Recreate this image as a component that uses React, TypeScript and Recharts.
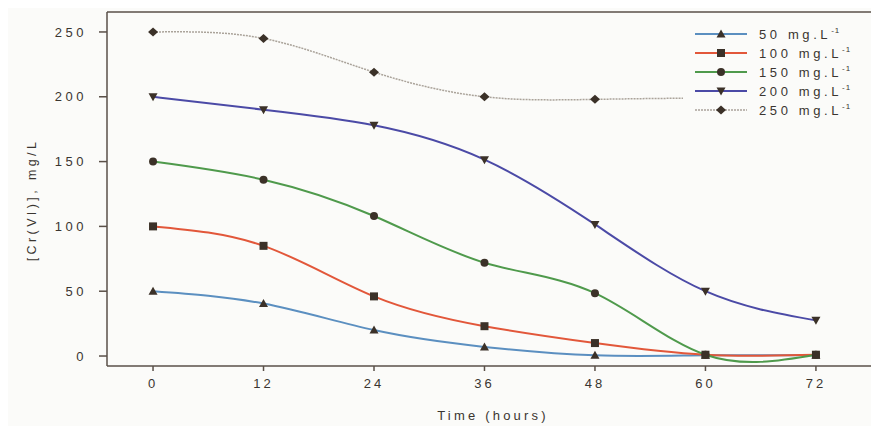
import React from "react";
import {
  LineChart,
  Line,
  XAxis,
  YAxis,
  ReferenceLine,
} from "recharts";

const hours = [0, 12, 24, 36, 48, 60, 72];
const conc50 = [50, 40.5, 20, 7, 0.5, 0.5, 0.5];
const conc100 = [100, 85, 46, 23, 10, 1, 1];
const conc150 = [150, 136, 108, 72, 48.5, 1, 1];
const conc200 = [200, 190, 178, 151.5, 101.5, 50, 27.5];
const conc250 = [250, 245, 219, 200, 198, 199, 199];

const yTicks = [0, 50, 100, 150, 200, 250];
const xTicks = [0, 12, 24, 36, 48, 60, 72];

const series = [
  { key: "c50", label: "50", color: "#5b8fc0", shape: "triUp", values: conc50 },
  { key: "c100", label: "100", color: "#e2573a", shape: "square", values: conc100 },
  { key: "c150", label: "150", color: "#4f9a4c", shape: "circle", values: conc150 },
  { key: "c200", label: "200", color: "#4b4aa6", shape: "triDown", values: conc200 },
  { key: "c250", label: "250", color: "#aaa39a", shape: "diamond", values: conc250 },
];

const data = hours.map((t, i) => {
  const row: any = { t };
  series.forEach((s) => {
    row[s.key] = s.values[i];
  });
  return row;
});

const INK = "#3b3128";
const AXIS = "#5a5048";
const TEXT = "#3a3530";
const FONT = "'Liberation Sans', Arial, sans-serif";

function Marker({ shape, cx, cy }: { shape: string; cx: number; cy: number }) {
  if (shape === "triUp") {
    return <polygon points={`${cx},${cy - 4.5} ${cx - 4.5},${cy + 3.5} ${cx + 4.5},${cy + 3.5}`} fill={INK} />;
  }
  if (shape === "triDown") {
    return <polygon points={`${cx},${cy + 4.5} ${cx - 4.5},${cy - 3.5} ${cx + 4.5},${cy - 3.5}`} fill={INK} />;
  }
  if (shape === "square") {
    return <rect x={cx - 4} y={cy - 4} width={8} height={8} fill={INK} />;
  }
  if (shape === "circle") {
    return <circle cx={cx} cy={cy} r={4} fill={INK} />;
  }
  return <polygon points={`${cx},${cy - 4.5} ${cx + 5},${cy} ${cx},${cy + 4.5} ${cx - 5},${cy}`} fill={INK} />;
}

function makeDot(shape: string) {
  return (props: any) => {
    const { cx, cy, index } = props;
    if (cx == null || cy == null) return <g key={index} />;
    return (
      <g key={index}>
        <Marker shape={shape} cx={cx} cy={cy} />
      </g>
    );
  };
}

// rotated y title, centred a little below the plot middle like the original
function YTitle(props: any) {
  const { viewBox } = props;
  const x = 24;
  const y = viewBox.y + viewBox.height / 2 + 11;
  return (
    <text
      x={x}
      y={y}
      transform={`rotate(-90 ${x} ${y})`}
      textAnchor="middle"
      dominantBaseline="central"
      fill={TEXT}
      fontSize={12.5}
      fontFamily={FONT}
      letterSpacing={3.4}
    >
      [Cr(VI)], mg/L
    </text>
  );
}

function LegendBox() {
  return (
    <div
      style={{
        position: "absolute",
        top: 17,
        left: 675,
        width: 196,
        background: "#fbfbf9",
        padding: "0 0 6px 12px",
        boxSizing: "border-box",
      }}
    >
      {series.map((s) => (
        <div
          key={s.key}
          style={{ display: "flex", alignItems: "center", height: 18.8 }}
        >
          <svg width={54} height={12}>
            <line
              x1={0}
              y1={6}
              x2={52}
              y2={6}
              stroke={s.color}
              strokeWidth={s.key === "c250" ? 1.5 : 2}
              strokeDasharray={s.key === "c250" ? "2 1" : undefined}
            />
            <Marker shape={s.shape} cx={26} cy={6} />
          </svg>
          <span
            style={{
              marginLeft: 10,
              fontFamily: FONT,
              fontSize: 13,
              letterSpacing: 3.6,
              color: TEXT,
              whiteSpace: "nowrap",
            }}
          >
            {s.label} mg.L
            <sup style={{ fontSize: 8, letterSpacing: 1, verticalAlign: 6 }}>-1</sup>
          </span>
        </div>
      ))}
    </div>
  );
}

export default function App() {
  return (
    <div style={{ position: "relative", background: "#fbfbf9", width: 871, height: 418 }}>
      <LineChart
        width={871}
        height={418}
        data={data}
        margin={{ top: 4, right: 0, bottom: 20, left: 0 }}
      >
        <XAxis
          dataKey="t"
          type="number"
          domain={[-5, 78.85]}
          ticks={xTicks}
          allowDataOverflow
          stroke={AXIS}
          strokeWidth={1.5}
          tickSize={5}
          tickMargin={8}
          height={40}
          tick={{ fill: TEXT, fontSize: 13, fontFamily: FONT, letterSpacing: 3 }}
          label={{
            value: "Time (hours)",
            position: "insideBottom",
            offset: -14,
            fill: TEXT,
            fontSize: 13,
            fontFamily: FONT,
            letterSpacing: 3.2,
          }}
        />
        <YAxis
          type="number"
          domain={[-7.7, 265.4]}
          ticks={yTicks}
          allowDataOverflow
          width={99}
          stroke={AXIS}
          strokeWidth={1.5}
          tickSize={8}
          tickMargin={12}
          tick={{ fill: TEXT, fontSize: 13, fontFamily: FONT, letterSpacing: 3.5 }}
          label={<YTitle />}
        />
        <ReferenceLine y={265.4} stroke={AXIS} strokeWidth={1.5} ifOverflow="extendDomain" />
        {series.map((s) => (
          <Line
            key={s.key}
            dataKey={s.key}
            type="natural"
            stroke={s.color}
            strokeWidth={s.key === "c250" ? 1.5 : 2}
            strokeDasharray={s.key === "c250" ? "2 1" : undefined}
            dot={makeDot(s.shape)}
            activeDot={false}
            isAnimationActive={false}
          />
        ))}
      </LineChart>
      <LegendBox />
    </div>
  );
}
